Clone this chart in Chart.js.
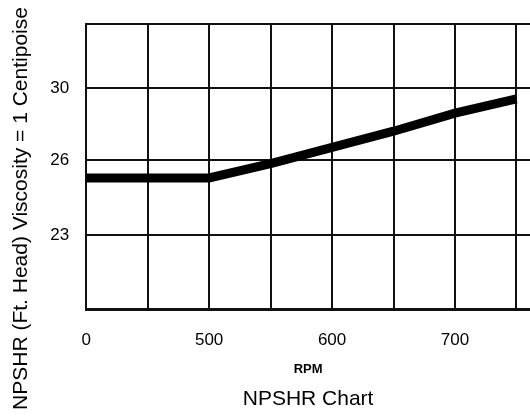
<!DOCTYPE html>
<html>
<head>
<meta charset="utf-8">
<script src="https://cdn.jsdelivr.net/npm/chart.js@4.4.1/dist/chart.umd.min.js"></script>
<style>
  html, body { margin: 0; padding: 0; background: #fff; }
  #wrap { width: 530px; height: 417px; }
</style>
</head>
<body>
<div id="wrap"><canvas id="chart"></canvas></div>
<script>
// RPM axis is broken: its left edge reads "0" but sits where 400 would be
const rpm = [400, 500, 550, 600, 650, 700, 750];
const npshr = [25.0, 25.0, 25.8, 26.7, 27.6, 28.6, 29.4];

const xTickValues = [400, 450, 500, 550, 600, 650, 700, 750];
const xTickLabels = ["0", "", "500", "", "600", "", "700", ""];
// the "23" line is not spaced like the others in the original
const yTickValues = [21.83, 26, 30, 33.56];
const yTickLabels = ["23", "26", "30", ""];

const sans = '"Liberation Sans", Arial, sans-serif';
const lastX = xTickValues[xTickValues.length - 1];

const ctx = document.getElementById("chart").getContext("2d");
new Chart(ctx, {
  type: "line",
  data: {
    datasets: [
      {
        data: rpm.map((x, i) => ({ x: x, y: npshr[i] })),
        borderColor: "#000",
        borderWidth: 9,
        pointRadius: 0,
        tension: 0,
        borderCapStyle: "butt",
        fill: false,
      },
    ],
  },
  options: {
    responsive: true,
    maintainAspectRatio: false,
    animation: false,
    layout: { padding: 0 },
    plugins: {
      legend: { display: false },
      tooltip: { enabled: false },
      title: {
        display: true,
        position: "left",
        text: "NPSHR (Ft. Head) Viscosity = 1 Centipoise",
        color: "#000",
        font: { family: sans, size: 21, weight: "normal" },
        padding: { top: 9, bottom: 0 },
      },
      subtitle: {
        display: true,
        position: "bottom",
        fullSize: false,
        text: "NPSHR Chart",
        color: "#000",
        font: { family: sans, size: 21, weight: "normal" },
        padding: { top: 0, bottom: 5 },
      },
    },
    scales: {
      x: {
        type: "linear",
        min: 400,
        max: 761,
        afterBuildTicks: (scale) => {
          scale.ticks = xTickValues.map(v => ({ value: v }));
        },
        afterFit: (scale) => {
          scale.height = 77;
          scale.paddingLeft = 0;
          scale.paddingRight = 0;
        },
        ticks: {
          autoSkip: false,
          includeBounds: false,
          maxRotation: 0,
          padding: 20,
          color: "#000",
          font: { family: sans, size: 17 },
          callback: (value, index) => xTickLabels[index],
        },
        grid: {
          // no line at the right edge of the plot
          color: (c) => (c.tick && c.tick.value <= lastX ? "#111" : "rgba(0,0,0,0)"),
          lineWidth: (c) => (c.tick && c.tick.value <= lastX ? 2 : 0),
          drawTicks: false,
        },
        border: { color: "#111", width: 3 },
        title: {
          display: true,
          text: "RPM",
          color: "#000",
          font: { family: sans, size: 13, weight: "bold" },
          padding: { top: 0, bottom: 10 },
        },
      },
      y: {
        type: "linear",
        min: 17.67,
        max: 33.56,
        afterBuildTicks: (scale) => {
          scale.ticks = yTickValues.map(v => ({ value: v }));
        },
        afterFit: (scale) => {
          scale.width = 52;
          scale.paddingTop = 24;
          scale.paddingBottom = 0;
        },
        ticks: {
          padding: 17,
          color: "#000",
          font: { family: sans, size: 17 },
          callback: (value, index) => yTickLabels[index],
        },
        grid: { color: "#111", lineWidth: 2, drawTicks: false },
        border: { color: "#111", width: 2 },
      },
    },
  },
});
</script>
</body>
</html>
